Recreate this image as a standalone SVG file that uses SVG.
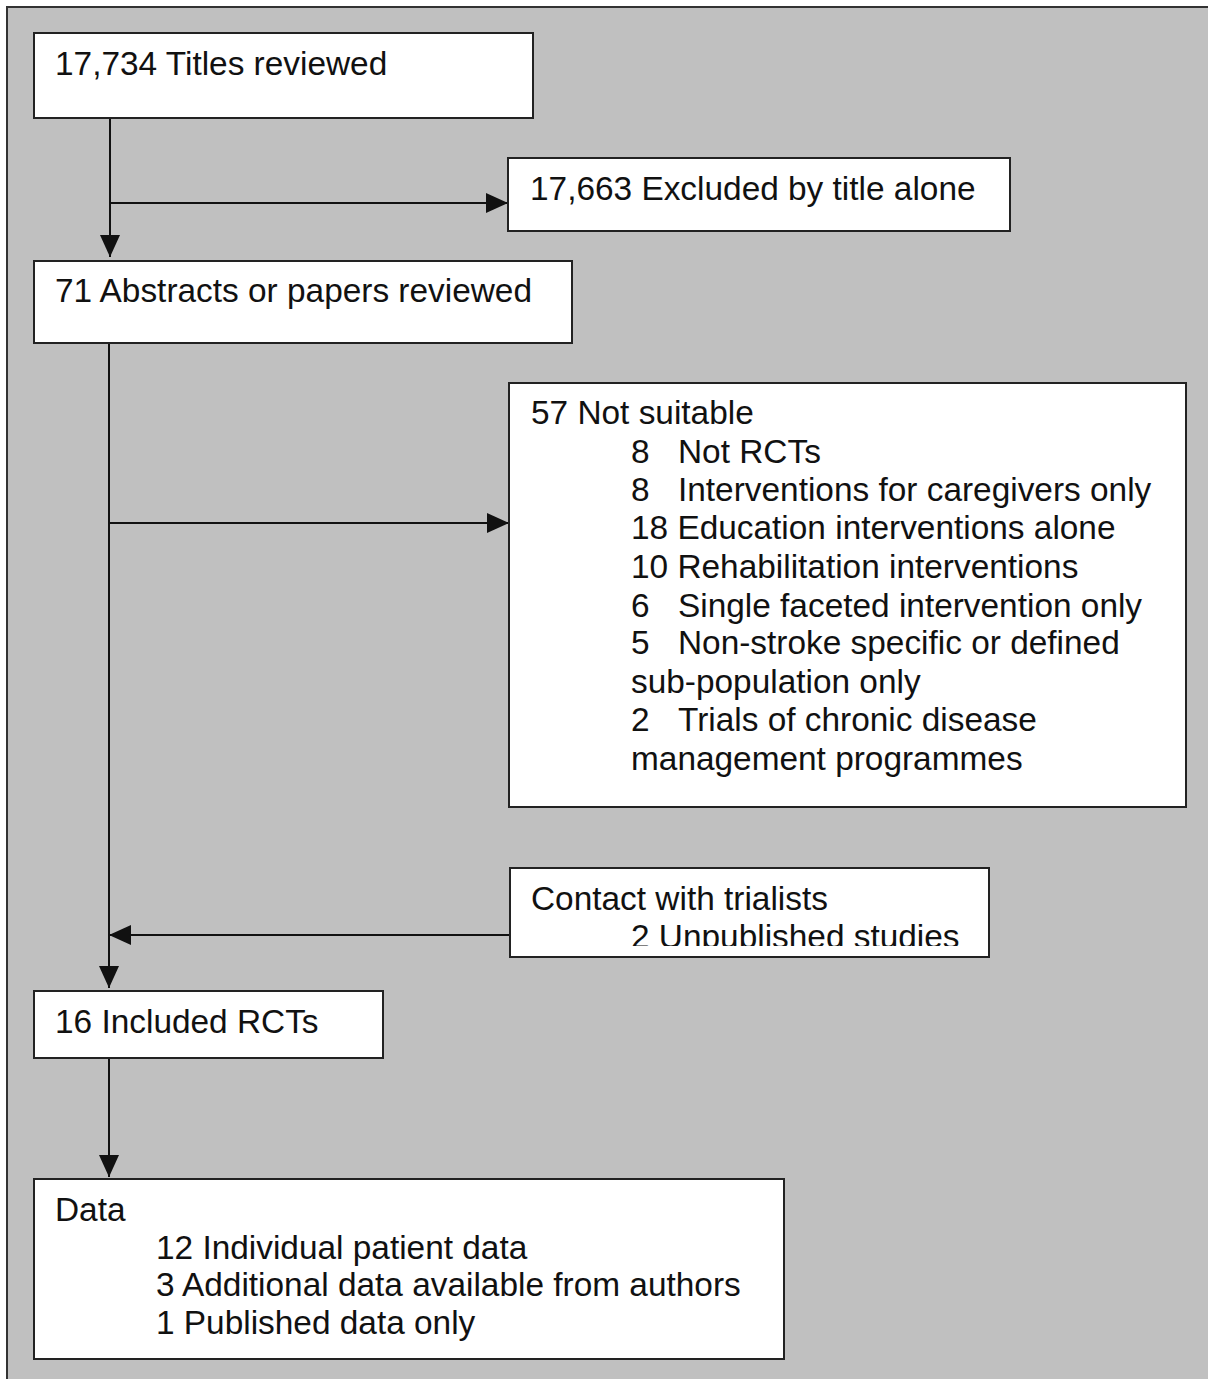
<svg xmlns="http://www.w3.org/2000/svg" width="1208" height="1379" viewBox="0 0 1208 1379">
<defs>
<style>
.box{fill:#fff;stroke:#222;stroke-width:2}
.t{font-family:"Liberation Sans",Arial,sans-serif;font-size:33.4px;fill:#111}
.c{fill:none;stroke:#111;stroke-width:2}
</style>
<marker id="ah" markerUnits="userSpaceOnUse" viewBox="0 0 22 20" refX="22" refY="10" markerWidth="22" markerHeight="20" orient="auto">
<path d="M0,0 L22,10 L0,20 z" fill="#111"/>
</marker>
<clipPath id="clip5"><rect x="511" y="869" width="477" height="77"/></clipPath>
</defs>
<rect x="0" y="0" width="1208" height="1379" fill="#fff"/>
<rect x="7" y="7" width="1215" height="1390" fill="#c0c0c0" stroke="#333" stroke-width="2"/>
<g id="connectors">
<path class="c" d="M110,118 V257" marker-end="url(#ah)"/>
<path class="c" d="M110,203 H508" marker-end="url(#ah)"/>
<path class="c" d="M109,343 V988" marker-end="url(#ah)"/>
<path class="c" d="M109,523 H509" marker-end="url(#ah)"/>
<path class="c" d="M510,935 H109" marker-end="url(#ah)"/>
<path class="c" d="M109,1058 V1177" marker-end="url(#ah)"/>
</g>
<g id="titles">
<rect class="box" x="34" y="33" width="499" height="85"/>
<text class="t" x="55" y="75">17,734 Titles reviewed</text>
</g>
<g id="excluded">
<rect class="box" x="508" y="158" width="502" height="73"/>
<text class="t" x="530" y="200">17,663 Excluded by title alone</text>
</g>
<g id="abstracts">
<rect class="box" x="34" y="261" width="538" height="82"/>
<text class="t" x="55" y="302">71 Abstracts or papers reviewed</text>
</g>
<g id="notsuitable">
<rect class="box" x="509" y="383" width="677" height="424"/>
<text class="t" x="531" y="424">57 Not suitable</text>
<text class="t" x="631" y="463">8</text><text class="t" x="678" y="463">Not RCTs</text>
<text class="t" x="631" y="501">8</text><text class="t" x="678" y="501">Interventions for caregivers only</text>
<text class="t" x="631" y="539">18 Education interventions alone</text>
<text class="t" x="631" y="578">10 Rehabilitation interventions</text>
<text class="t" x="631" y="617">6</text><text class="t" x="678" y="617">Single faceted intervention only</text>
<text class="t" x="631" y="654">5</text><text class="t" x="678" y="654">Non-stroke specific or defined</text>
<text class="t" x="631" y="693">sub-population only</text>
<text class="t" x="631" y="731">2</text><text class="t" x="678" y="731">Trials of chronic disease</text>
<text class="t" x="631" y="770">management programmes</text>
</g>
<g id="contact">
<rect class="box" x="510" y="868" width="479" height="89"/>
<g clip-path="url(#clip5)">
<text class="t" x="531" y="910">Contact with trialists</text>
<text class="t" x="631" y="948">2 Unpublished studies</text>
</g>
</g>
<g id="included">
<rect class="box" x="34" y="991" width="349" height="67"/>
<text class="t" x="55" y="1033">16 Included RCTs</text>
</g>
<g id="data">
<rect class="box" x="34" y="1179" width="750" height="180"/>
<text class="t" x="55" y="1221">Data</text>
<text class="t" x="156" y="1259">12 Individual patient data</text>
<text class="t" x="156" y="1296">3 Additional data available from authors</text>
<text class="t" x="156" y="1334">1 Published data only</text>
</g>
</svg>
